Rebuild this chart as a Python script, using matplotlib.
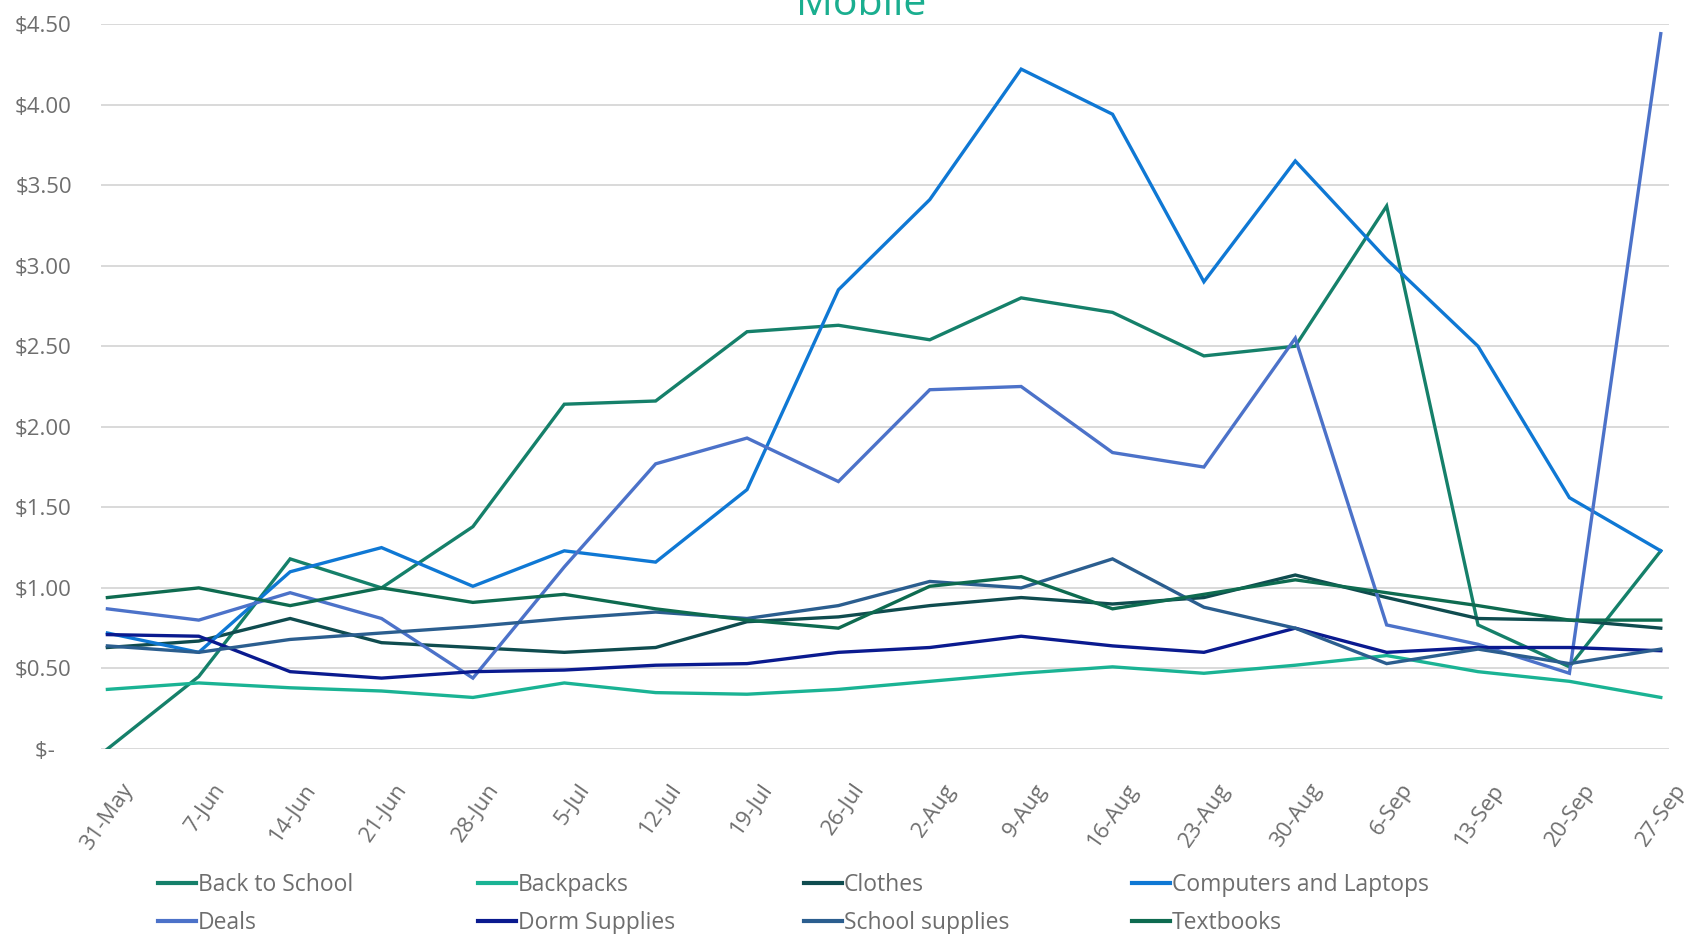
import matplotlib
matplotlib.use("Agg")
import matplotlib.pyplot as plt
from matplotlib.transforms import ScaledTranslation

plt.rcParams['font.family'] = ['Open Sans', 'DejaVu Sans']

weeks = ["31-May", "7-Jun", "14-Jun", "21-Jun", "28-Jun", "5-Jul", "12-Jul",
         "19-Jul", "26-Jul", "2-Aug", "9-Aug", "16-Aug", "23-Aug", "30-Aug",
         "6-Sep", "13-Sep", "20-Sep", "27-Sep"]

back_to_school = [0.00, 0.45, 1.18, 1.00, 1.38, 2.14, 2.16, 2.59, 2.63, 2.54,
                  2.80, 2.71, 2.44, 2.50, 3.37, 0.77, 0.51, 1.23]
backpacks = [0.37, 0.41, 0.38, 0.36, 0.32, 0.41, 0.35, 0.34, 0.37, 0.42,
             0.47, 0.51, 0.47, 0.52, 0.58, 0.48, 0.42, 0.32]
clothes = [0.63, 0.67, 0.81, 0.66, 0.63, 0.60, 0.63, 0.79, 0.82, 0.89,
           0.94, 0.90, 0.94, 1.08, 0.94, 0.81, 0.80, 0.75]
computers = [0.72, 0.60, 1.10, 1.25, 1.01, 1.23, 1.16, 1.61, 2.85, 3.41,
             4.22, 3.94, 2.90, 3.65, 3.04, 2.50, 1.56, 1.23]
deals = [0.87, 0.80, 0.97, 0.81, 0.44, 1.13, 1.77, 1.93, 1.66, 2.23,
         2.25, 1.84, 1.75, 2.55, 0.77, 0.65, 0.47, 4.44]
dorm_supplies = [0.71, 0.70, 0.48, 0.44, 0.48, 0.49, 0.52, 0.53, 0.60, 0.63,
                 0.70, 0.64, 0.60, 0.75, 0.60, 0.63, 0.63, 0.61]
school_supplies = [0.64, 0.60, 0.68, 0.72, 0.76, 0.81, 0.85, 0.81, 0.89, 1.04,
                   1.00, 1.18, 0.88, 0.75, 0.53, 0.62, 0.53, 0.62]
textbooks = [0.94, 1.00, 0.89, 1.00, 0.91, 0.96, 0.87, 0.80, 0.75, 1.01,
             1.07, 0.87, 0.96, 1.05, 0.97, 0.89, 0.80, 0.80]

series_names = ["Back to School", "Backpacks", "Clothes", "Computers and Laptops",
                "Deals", "Dorm Supplies", "School supplies", "Textbooks"]
series_values = [back_to_school, backpacks, clothes, computers,
                 deals, dorm_supplies, school_supplies, textbooks]
series_colors = ["#15806A", "#1AB394", "#0F4C4F", "#0F78D4",
                 "#4C72C9", "#0A1A8F", "#2B5E8F", "#0E6B50"]

y_ticks = [0, 0.5, 1.0, 1.5, 2.0, 2.5, 3.0, 3.5, 4.0, 4.5]

text_gray = '#6E6E6E'

fig = plt.figure(figsize=(16.86, 9.34), dpi=100)
ax = fig.add_axes([101 / 1686, 1 - 749 / 934, (1669 - 101) / 1686, (749 - 24) / 934])

x = list(range(len(weeks)))
handles = []
for name, vals, col in zip(series_names, series_values, series_colors):
    h, = ax.plot(x, vals, color=col, lw=2.4, solid_joinstyle='miter', label=name)
    handles.append(h)

ax.set_xlim(-0.07, len(weeks) - 1 + 0.09)
ax.set_ylim(0, 4.5)
ax.set_yticks(y_ticks)
ax.set_yticklabels(["$-   " if v == 0 else f"${v:.2f}" for v in y_ticks])
ax.set_xticks(x)
ax.set_xticklabels(weeks, rotation=55, ha='right', va='top', rotation_mode='anchor')
ax.grid(axis='y', color='#D9D9D9', lw=1.4)
ax.set_axisbelow(True)
for s in ax.spines.values():
    s.set_visible(False)
ax.tick_params(axis='both', length=0, colors=text_gray, labelsize=16)
ax.tick_params(axis='y', pad=21)
ax.tick_params(axis='x', pad=22)
offset = ScaledTranslation(13 / 100, 0, fig.dpi_scale_trans)
for lbl in ax.get_xticklabels():
    lbl.set_transform(lbl.get_transform() + offset)

fig.text(861 / 1686, 1 - 15 / 934, "Mobile", color='#1AAE8F', fontsize=29.5,
         ha='center', va='baseline')

# Legend laid out as a 4 x 2 grid with evenly spaced columns
col_x = [158, 478, 804, 1132]
for c in range(4):
    pair = [handles[c], handles[c + 4]]
    leg = fig.legend(pair, [h.get_label() for h in pair],
                     loc='upper left', bbox_to_anchor=(col_x[c] / 1686, 1 - 873 / 934),
                     frameon=False, fontsize=16.5, handlelength=1.65,
                     handletextpad=0.1, borderpad=0, borderaxespad=0,
                     labelspacing=0.62, labelcolor=text_gray)
    for lh in leg.get_lines():
        lh.set_linewidth(3)

fig.savefig("out.png", dpi=100)
